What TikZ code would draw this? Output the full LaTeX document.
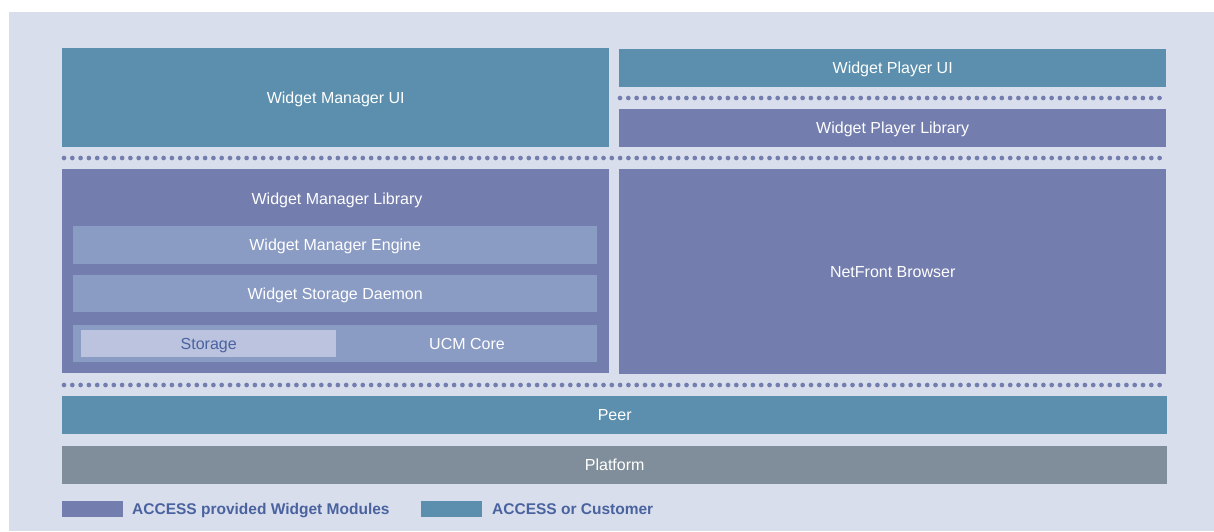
\documentclass[tikz,border=0pt]{standalone}
\usepackage{fontspec}
\setmainfont{Liberation Sans}
\definecolor{bgc}{HTML}{D8DEEB}
\definecolor{teal}{HTML}{5B8FAD}
\definecolor{purp}{HTML}{737DAE}
\definecolor{inner}{HTML}{8A9BC4}
\definecolor{stor}{HTML}{BBC3DE}
\definecolor{plat}{HTML}{808D9A}
\definecolor{txtb}{HTML}{4A63A0}
\tikzset{
  blk/.style={draw=none, anchor=north west, inner sep=0pt, text=white, text height=11.5pt, text depth=0pt, font=\fontsize{16}{18}\selectfont},
  lbl/.style={text=white, inner sep=0pt, text height=11.5pt, text depth=0pt, font=\fontsize{16}{18}\selectfont},
  dotline/.style={draw=purp, line width=4.7pt, line cap=round, dash pattern=on 0pt off 8.3pt},
  leg/.style={text=txtb, inner sep=0pt, anchor=west, text height=11.5pt, text depth=0pt, font=\bfseries\fontsize{15.5}{18}\selectfont}
}
\begin{document}
\begin{tikzpicture}[x=1pt,y=1pt]
\useasboundingbox (0,0) rectangle (1214,-531);
\fill[white] (0,0) rectangle (1214,-531);
\fill[bgc] (9,-12) rectangle (1214,-531);
% top row
\node[blk, fill=teal, minimum width=547pt, minimum height=99pt] (wmui) at (62,-48) {Widget Manager UI};
\node[blk, fill=teal, minimum width=547pt, minimum height=38pt] (wpui) at (619,-49) {Widget Player UI};
\node[blk, fill=purp, minimum width=547pt, minimum height=38pt] (wplib) at (619,-109) {Widget Player Library};
\coordinate (d1a) at (620,-98); \coordinate (d1b) at (1166,-98);
\draw[dotline] (d1a) -- (d1b);
\coordinate (d2a) at (64,-158); \coordinate (d2b) at (1166,-158);
\draw[dotline] (d2a) -- (d2b);
% middle
\node[blk, fill=purp, minimum width=547pt, minimum height=204pt] (wmlib) at (62,-169) {};
\node[lbl] (wmlibt) at (337,-199) {Widget Manager Library};
\node[blk, fill=inner, minimum width=524pt, minimum height=38pt] (wme) at (73,-226) {Widget Manager Engine};
\node[blk, fill=inner, minimum width=524pt, minimum height=37pt] (wsd) at (73,-275) {Widget Storage Daemon};
\node[blk, fill=inner, minimum width=524pt, minimum height=37pt] (ucm) at (73,-325) {};
\node[blk, fill=stor, minimum width=255pt, minimum height=27pt, text=txtb] (stg) at (81,-330) {Storage};
\node[lbl] (ucmt) at (467,-344) {UCM Core};
\node[blk, fill=purp, minimum width=547pt, minimum height=205pt] (nfb) at (619,-169) {NetFront Browser};
\coordinate (d3a) at (64,-385); \coordinate (d3b) at (1166,-385);
\draw[dotline] (d3a) -- (d3b);
% bottom
\node[blk, fill=teal, minimum width=1105pt, minimum height=38pt] (peer) at (62,-396) {Peer};
\node[blk, fill=plat, minimum width=1105pt, minimum height=38pt] (plat) at (62,-446) {Platform};
% legend
\node[blk, fill=purp, minimum width=61pt, minimum height=15.5pt] (lg1) at (62,-501) {};
\node[leg] (lg1t) at (132,-509) {ACCESS provided Widget Modules};
\node[blk, fill=teal, minimum width=61pt, minimum height=15.5pt] (lg2) at (421,-501) {};
\node[leg] (lg2t) at (492,-509) {ACCESS or Customer};
\end{tikzpicture}
\end{document}
